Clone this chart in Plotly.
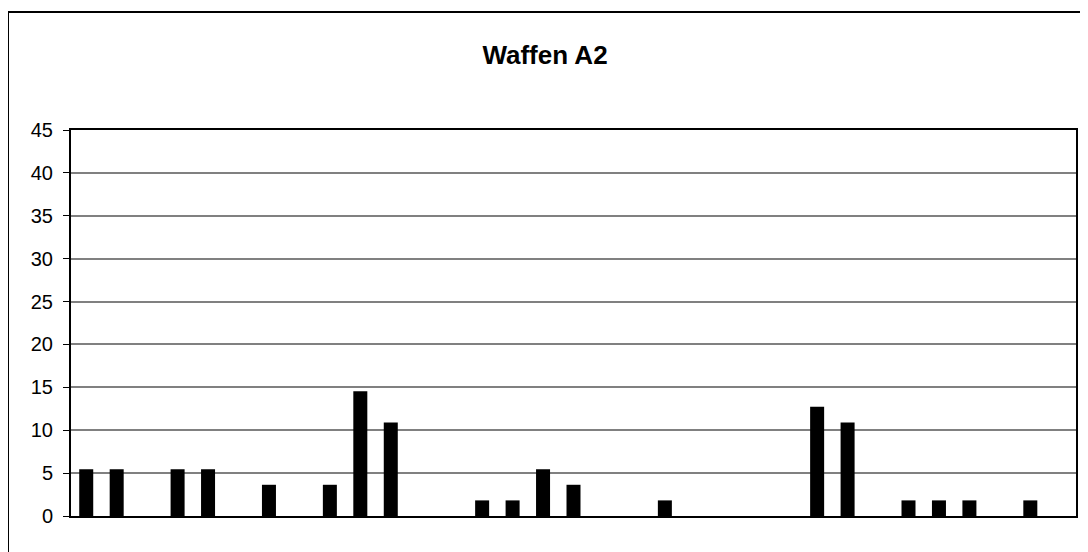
import plotly.graph_objects as go

# 33 categories, no labels shown on the x axis
categories = [str(i) for i in range(1, 34)]
values = [
    5.45, 5.45, 0, 5.45, 5.45, 0, 3.64, 0, 3.64, 14.55, 10.91,
    0, 0, 1.82, 1.82, 5.45, 3.64, 0, 0, 1.82, 0, 0, 0, 0,
    12.73, 10.91, 0, 1.82, 1.82, 1.82, 0, 1.82, 0,
]
y_ticks = [0, 5, 10, 15, 20, 25, 30, 35, 40, 45]

fig = go.Figure()

fig.add_trace(go.Bar(
    x=categories,
    y=values,
    marker=dict(color="black", line=dict(width=0)),
    showlegend=False,
))

fig.update_layout(
    width=1088,
    height=552,
    margin=dict(l=63, r=20, t=122, b=44),
    paper_bgcolor="white",
    plot_bgcolor="white",
    font=dict(family="Liberation Sans, Arial, sans-serif", size=20, color="black"),
    title=dict(
        text="<b>Waffen A2</b>",
        x=0.4936,
        xanchor="center",
        y=0.915,
        yanchor="middle",
        font=dict(size=26, color="black"),
    ),
    bargap=0.54,
    xaxis=dict(
        showticklabels=False,
        ticks="",
        showgrid=False,
        showline=True,
        linecolor="black",
        linewidth=2,
        mirror=True,
    ),
    yaxis=dict(
        range=[0, 45],
        tickvals=y_ticks,
        ticks="outside",
        ticklen=6,
        tickcolor="black",
        ticklabelstandoff=6,
        showgrid=True,
        gridcolor="#808080",
        gridwidth=1.5,
        showline=True,
        linecolor="black",
        linewidth=2,
        mirror=True,
        zeroline=False,
    ),
)

# outer chart border (right and bottom edges fall outside the picture)
fig.add_shape(
    type="rect",
    xref="paper", yref="paper",
    x0=-63 / 1005, x1=1.2,
    y0=-0.3, y1=1 + 118 / 386,
    line=dict(color="black", width=2),
    fillcolor="rgba(0,0,0,0)",
    layer="below",
)

fig.write_html("out.html")
